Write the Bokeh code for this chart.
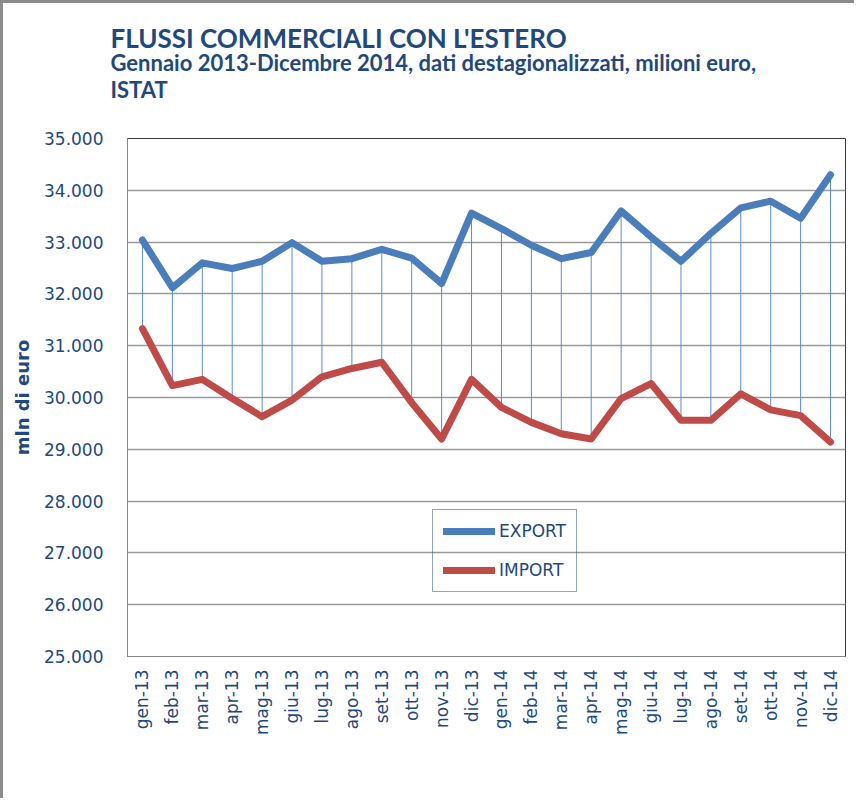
import math
from bokeh.plotting import figure
from bokeh.models import Range1d, FixedTicker, Legend, Title
from bokeh.embed import file_html
from bokeh.resources import INLINE

months = ["gen-13", "feb-13", "mar-13", "apr-13", "mag-13", "giu-13",
          "lug-13", "ago-13", "set-13", "ott-13", "nov-13", "dic-13",
          "gen-14", "feb-14", "mar-14", "apr-14", "mag-14", "giu-14",
          "lug-14", "ago-14", "set-14", "ott-14", "nov-14", "dic-14"]

export_vals = [33040, 32120, 32600, 32490, 32630, 32990,
               32630, 32680, 32860, 32690, 32200, 33560,
               33260, 32940, 32680, 32800, 33600, 33100,
               32630, 33170, 33660, 33790, 33460, 34300]

import_vals = [31330, 30230, 30350, 29980, 29630, 29950,
               30400, 30560, 30680, 29900, 29200, 30350,
               29810, 29520, 29300, 29200, 29980, 30270,
               29560, 29560, 30070, 29760, 29650, 29140]

y_ticks = [25000, 26000, 27000, 28000, 29000, 30000,
           31000, 32000, 33000, 34000, 35000]
y_tick_labels = ["25.000", "26.000", "27.000", "28.000", "29.000", "30.000",
                 "31.000", "32.000", "33.000", "34.000", "35.000"]

title_text = "FLUSSI COMMERCIALI CON L'ESTERO"
subtitle_1 = "Gennaio 2013-Dicembre 2014, dati destagionalizzati, milioni euro,"
subtitle_2 = "ISTAT"
y_label = "mln di euro"

navy = "#1f497d"
blue = "#4a7ebb"
red = "#be4b48"

p = figure(x_range=months, y_range=Range1d(25000, 35000),
           width=854, height=798, output_backend="svg",
           toolbar_location=None, title=None,
           min_border_left=124, min_border_right=12,
           min_border_top=135, min_border_bottom=145)
p.styles = {"border-top": "3px solid #8c8c8c", "border-left": "3px solid #8c8c8c"}

p.background_fill_color = "white"
p.border_fill_color = "white"
p.outline_line_color = "#3a3a3a"
p.outline_line_width = 1

# grid
p.xgrid.grid_line_color = None
p.ygrid.grid_line_color = "#9a9a9a"
p.ygrid.grid_line_width = 1.5

# axes
p.yaxis.ticker = FixedTicker(ticks=y_ticks)
p.yaxis.major_label_overrides = {t: l for t, l in zip(y_ticks, y_tick_labels)}
for ax in (p.xaxis[0], p.yaxis[0]):
    ax.axis_line_color = "#868686"
    ax.axis_line_width = 1
    ax.major_tick_line_color = None
    ax.minor_tick_line_color = None
    ax.major_tick_out = 0
    ax.major_tick_in = 0
    ax.major_label_text_color = navy
    ax.major_label_text_font = "DejaVu Sans"
    ax.major_label_text_font_size = "17px"
p.yaxis.major_label_standoff = 24
p.xaxis.major_label_standoff = 13
p.xaxis.major_label_orientation = math.pi / 2
p.yaxis.axis_label = y_label
p.yaxis.axis_label_text_color = navy
p.yaxis.axis_label_text_font = "DejaVu Sans"
p.yaxis.axis_label_text_font_style = "bold"
p.yaxis.axis_label_text_font_size = "18px"
p.yaxis.axis_label_standoff = 8

# drop lines between series
p.segment(x0=months, y0=export_vals, x1=months, y1=import_vals,
          line_color="#5b8bd0", line_width=1)

# series
r_exp = p.line(months, export_vals, line_color=blue, line_width=7,
               line_join="round", line_cap="round")
r_imp = p.line(months, import_vals, line_color=red, line_width=7,
               line_join="round", line_cap="round")

legend = Legend(items=[("EXPORT", [r_exp]), ("IMPORT", [r_imp])],
                location=(305, 64))
legend.background_fill_alpha = 0
legend.border_line_color = navy
legend.border_line_width = 1
legend.label_text_color = navy
legend.label_text_font = "DejaVu Sans"
legend.label_text_font_size = "17px"
legend.glyph_width = 52
legend.glyph_height = 22
legend.label_height = 22
legend.label_standoff = 4
legend.spacing = 17
legend.padding = 10
legend.margin = 0
p.add_layout(legend, "center")

# titles (added bottom-up); first one is a blank spacer above the frame
p.add_layout(Title(text=" ", align="left", standoff=33,
                   text_font_size="1px", text_color="white"), "above")
p.add_layout(Title(text=subtitle_2, align="left", offset=-17, standoff=0,
                   text_color=navy, text_font="Lato", text_font_style="bold",
                   text_font_size="22px"), "above")
p.add_layout(Title(text=subtitle_1, align="left", offset=-17, standoff=-4,
                   text_color=navy, text_font="Lato", text_font_style="bold",
                   text_font_size="22px"), "above")
p.add_layout(Title(text=title_text, align="left", offset=-17, standoff=-11,
                   text_color=navy, text_font="Lato", text_font_style="bold",
                   text_font_size="26px"), "above")

open("out.html", "w").write(file_html(p, INLINE))
